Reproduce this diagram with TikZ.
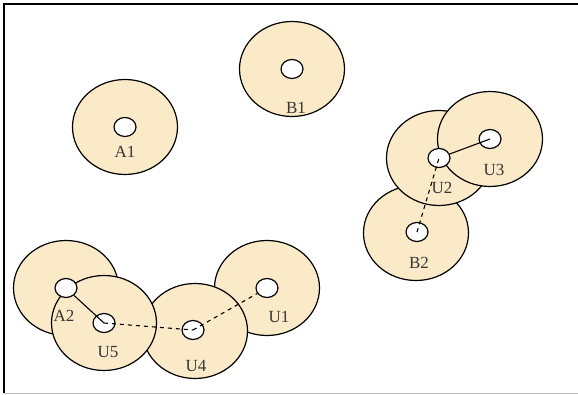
\documentclass[tikz,border=0pt]{standalone}
\usepackage{fontspec}
\setmainfont{Liberation Serif}
\usetikzlibrary{shapes.geometric}
\definecolor{diskfill}{RGB}{250,234,199}
\definecolor{labelgray}{RGB}{55,55,55}
\tikzset{
  disk/.style={ellipse, draw=black, line width=1.2pt, fill=diskfill, inner sep=0pt, minimum width=105pt, minimum height=95pt},
  hole/.style={ellipse, draw=black, line width=1.2pt, fill=white, inner sep=0pt, minimum width=22pt, minimum height=19pt},
  lbl/.style={font=\fontsize{17}{17}\selectfont, text=labelgray, inner sep=0pt},
  link/.style={line width=1.1pt},
  dlink/.style={line width=1.1pt, dash pattern=on 4pt off 4pt}
}
\begin{document}
\begin{tikzpicture}[x=1pt,y=-1pt]
\useasboundingbox (0,0) rectangle (578,395);
\draw[line width=1.5pt] (578,4) -- (4,4) -- (4,393);
\draw[line width=1pt, gray!50] (4,393) -- (578,393);
% big disks
\node[disk] (A1d) at (125,127) {};
\node[disk] (B1d) at (292,69) {};
\node[disk] (B2d) at (416,233) {};
\node[disk] (U2d) at (439,158) {};
\node[disk] (U3d) at (490,139) {};
\node[disk] (A2d) at (66,288) {};
\node[disk] (U1d) at (267,288) {};
\node[disk] (U4d) at (195,331) {};
\node[disk] (U5d) at (104,323) {};
% holes
\node[hole] (A1) at (125,127) {};
\node[hole] (B1) at (292,69) {};
\node[hole] (B2) at (417,232) {};
\node[hole] (U2) at (439,158) {};
\node[hole] (U3) at (490,139) {};
\node[hole] (A2) at (66,288) {};
\node[hole] (U1) at (267,288) {};
\node[hole] (U4) at (193,330) {};
\node[hole] (U5) at (104,323) {};
% labels
\node[lbl] (A1l) at (125,152) {A1};
\node[lbl] (B1l) at (296,108) {B1};
\node[lbl] (U2l) at (442,188) {U2};
\node[lbl] (U3l) at (494,170) {U3};
\node[lbl] (B2l) at (419,263) {B2};
\node[lbl] (A2l) at (64,316) {A2};
\node[lbl] (U5l) at (108,352) {U5};
\node[lbl] (U4l) at (196,366) {U4};
\node[lbl] (U1l) at (279,317) {U1};
% connectors
\draw[link] (A2) -- (U5.center);
\draw[link] (U2) -- (U3.center);
\draw[dlink] (U5.center) -- (U4.center);
\draw[dlink] (U4.center) -- (U1);
\draw[dlink] (B2.center) -- (U2.center);
\end{tikzpicture}
\end{document}
